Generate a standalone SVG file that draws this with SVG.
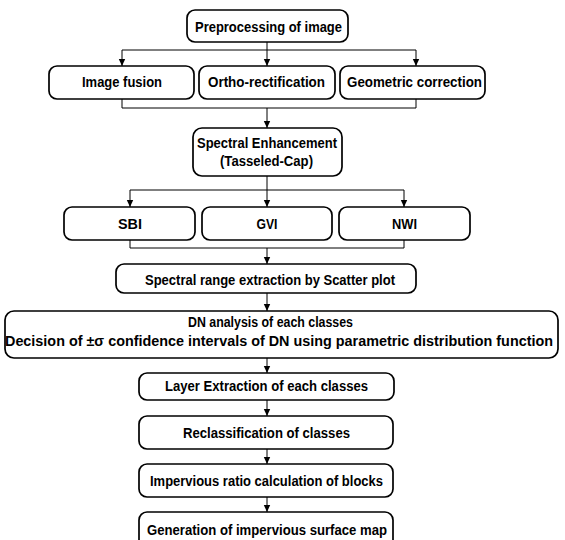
<svg xmlns="http://www.w3.org/2000/svg" width="565" height="540" viewBox="0 0 565 540">
<defs>
<style>
.box{fill:#fff;stroke:#000;stroke-width:1.7}
.t{font-family:"Liberation Sans",Arial,sans-serif;font-weight:bold;font-size:14px;text-anchor:middle;fill:#000}
.c{fill:none;stroke:#000;stroke-width:1}
</style>
<marker id="ah" markerWidth="8" markerHeight="8" refX="7" refY="4" orient="auto" markerUnits="userSpaceOnUse">
<path d="M0,0.8 L7,4 L0,7.2 Z" fill="#000"/>
</marker>
</defs>
<rect width="565" height="540" fill="#fff"/>
<g id="connectors">
<path class="c" d="M267,42 V50 M122,50 H416"/>
<path class="c" d="M122,50 V66" marker-end="url(#ah)"/>
<path class="c" d="M267,50 V66" marker-end="url(#ah)"/>
<path class="c" d="M416,50 V66" marker-end="url(#ah)"/>
<path class="c" d="M122,99 V108 H416 V99"/>
<path class="c" d="M267,108 V128" marker-end="url(#ah)"/>
<path class="c" d="M267,176 V190 M130,190 H404"/>
<path class="c" d="M130,190 V207" marker-end="url(#ah)"/>
<path class="c" d="M267,190 V207" marker-end="url(#ah)"/>
<path class="c" d="M404,190 V207" marker-end="url(#ah)"/>
<path class="c" d="M130,240 V248 H404 V240"/>
<path class="c" d="M267,248 V264" marker-end="url(#ah)"/>
<path class="c" d="M267,293 V311" marker-end="url(#ah)"/>
<path class="c" d="M267,358 V373" marker-end="url(#ah)"/>
<path class="c" d="M267,400 V416" marker-end="url(#ah)"/>
<path class="c" d="M267,449 V464" marker-end="url(#ah)"/>
<path class="c" d="M267,497 V512" marker-end="url(#ah)"/>
</g>
<g id="n-preprocessing"><rect class="box" x="187" y="10" width="161" height="32" rx="8"/><text class="t" x="268.5" y="31.5" textLength="147" lengthAdjust="spacingAndGlyphs">Preprocessing of image</text></g>
<g id="n-fusion"><rect class="box" x="49" y="66" width="145" height="33" rx="8"/><text class="t" x="122" y="87" textLength="80" lengthAdjust="spacingAndGlyphs">Image fusion</text></g>
<g id="n-ortho"><rect class="box" x="199" y="66" width="136" height="33" rx="8"/><text class="t" x="266.5" y="87" textLength="117" lengthAdjust="spacingAndGlyphs">Ortho-rectification</text></g>
<g id="n-geometric"><rect class="box" x="340" y="66" width="145" height="33" rx="8"/><text class="t" x="414.5" y="87" textLength="135" lengthAdjust="spacingAndGlyphs">Geometric correction</text></g>
<g id="n-spectral"><rect class="box" x="193" y="128" width="149" height="48" rx="9"/><text class="t" x="267" y="148" textLength="140" lengthAdjust="spacingAndGlyphs">Spectral Enhancement</text><text class="t" x="266.5" y="166" textLength="93" lengthAdjust="spacingAndGlyphs">(Tasseled-Cap)</text></g>
<g id="n-sbi"><rect class="box" x="64" y="207" width="131" height="33" rx="8"/><text class="t" x="130" y="229" textLength="24" lengthAdjust="spacingAndGlyphs">SBI</text></g>
<g id="n-gvi"><rect class="box" x="202" y="207" width="130" height="33" rx="8"/><text class="t" x="267" y="229" textLength="21" lengthAdjust="spacingAndGlyphs">GVI</text></g>
<g id="n-nwi"><rect class="box" x="339" y="207" width="131" height="33" rx="8"/><text class="t" x="404.5" y="229" textLength="25" lengthAdjust="spacingAndGlyphs">NWI</text></g>
<g id="n-range"><rect class="box" x="116" y="264" width="300" height="29" rx="8"/><text class="t" x="270" y="284.5" textLength="250" lengthAdjust="spacingAndGlyphs">Spectral range extraction by Scatter plot</text></g>
<g id="n-dn"><rect class="box" x="5" y="311" width="553" height="47" rx="9"/><text class="t" x="270.5" y="327" textLength="165" lengthAdjust="spacingAndGlyphs">DN analysis of each classes</text><text class="t" x="279" y="346" textLength="548" lengthAdjust="spacingAndGlyphs">Decision of ±σ confidence intervals of DN using parametric distribution function</text></g>
<g id="n-layer"><rect class="box" x="139" y="373" width="255" height="27" rx="8"/><text class="t" x="266.5" y="391" textLength="203" lengthAdjust="spacingAndGlyphs">Layer Extraction of each classes</text></g>
<g id="n-reclass"><rect class="box" x="139" y="416" width="254" height="33" rx="8"/><text class="t" x="266.5" y="438" textLength="167" lengthAdjust="spacingAndGlyphs">Reclassification of classes</text></g>
<g id="n-ratio"><rect class="box" x="139" y="464" width="254" height="33" rx="8"/><text class="t" x="266.5" y="486" textLength="233" lengthAdjust="spacingAndGlyphs">Impervious ratio calculation of blocks</text></g>
<g id="n-map"><rect class="box" x="139" y="512" width="254" height="40" rx="8"/><text class="t" x="267" y="535" textLength="240" lengthAdjust="spacingAndGlyphs">Generation of impervious surface map</text></g>
</svg>
